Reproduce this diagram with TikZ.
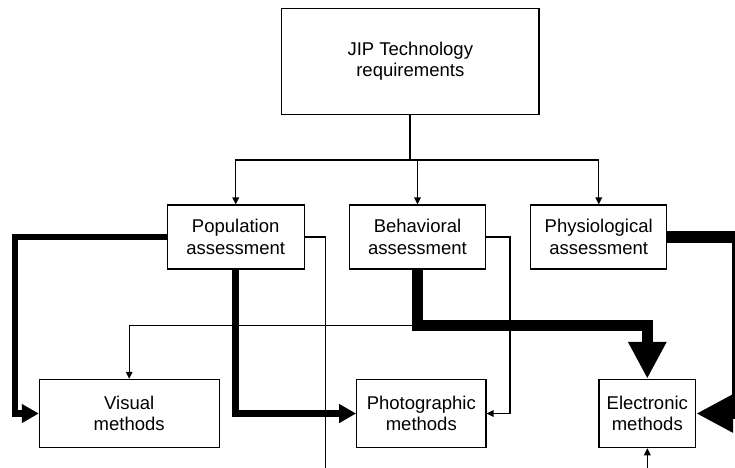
\documentclass[tikz,border=0pt]{standalone}
\usepackage{fontspec}
\setmainfont{Liberation Sans}
\usetikzlibrary{arrows.meta,calc}
\begin{document}
\begin{tikzpicture}[x=1pt,y=-1pt,
  box/.style={draw=black,line width=1.1pt,fill=white,inner sep=0pt,align=center,
    font=\fontsize{18.5}{21.5}\selectfont},
  thinline/.style={line width=1.4pt},
  thinarrow/.style={thinline,-{Triangle[length=7pt,width=6.5pt]}},
  medline/.style={line width=6.5pt,-{Triangle[length=17pt,width=18pt]}},
  bigline/.style={line width=11.3pt,-{Triangle[length=37pt,width=36pt]}}]
\useasboundingbox (0,0) rectangle (735,467);
\clip (0,0) rectangle (735,467);
% nodes
\node[box,minimum width=257.3pt,minimum height=106pt] (top) at (410.3,61.3) {JIP Technology\\requirements};
\node[box,minimum width=136.7pt,minimum height=64pt] (pop) at (235.7,237) {Population\\assessment};
\node[box,minimum width=136.4pt,minimum height=64pt] (beh) at (417.5,237) {Behavioral\\assessment};
\node[box,minimum width=136pt,minimum height=64pt] (phy) at (598.7,237) {Physiological\\assessment};
\node[box,minimum width=179.7pt,minimum height=68.4pt] (vis) at (129.2,413.5) {Visual\\methods};
\node[box,minimum width=129.3pt,minimum height=68.4pt] (pho) at (421.3,413.5) {Photographic\\methods};
\node[box,minimum width=96.7pt,minimum height=68.4pt] (ele) at (647.3,413.5) {Electronic\\methods};
\coordinate (bus) at (410.3,160);
\coordinate (pend) at (325.5,470);
\coordinate (eend) at (647.3,470);
\coordinate (junc) at ($(beh.south)+(0,55.7)$);
% top tree
\draw[line width=1.8pt] (top.south) -- (bus);
\draw[thinarrow] (bus) -| (pop.north);
\draw[thinarrow] (bus) -| (beh.north);
\draw[thinarrow] (bus) -| (phy.north);
% thin connectors
\draw[thinarrow] (junc) -| (vis.north);
\draw[thinline] (pop.east) -| (pend);
\draw[thinarrow] (beh.east) -- ++(23.6,0) |- (pho.east);
\draw[thinarrow] (eend) -- (ele.south);
% thick connectors
\draw[medline] (pop.west) -- ++(-151.8,0) |- (vis.west);
\draw[medline] (pop.south) |- (pho.west);
\draw[bigline] (beh.south) -- (junc) -| (ele.north);
\draw[bigline] (phy.east) -- ++(70.3,0) |- (ele.east);
\end{tikzpicture}
\end{document}
